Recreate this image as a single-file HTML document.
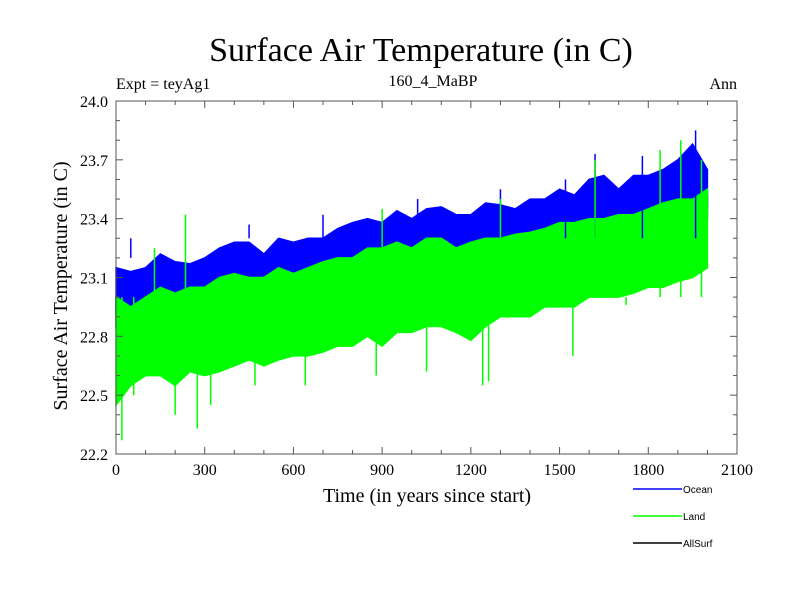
<!DOCTYPE html>
<html><head><meta charset="utf-8"><style>
body{margin:0;background:#fff;width:800px;height:600px;overflow:hidden}
svg text{font-family:"Liberation Serif",serif;fill:#000}
svg text.sans{font-family:"Liberation Sans",sans-serif}
</style></head><body>
<svg width="800" height="600" id="c">
<text x="421" y="61" font-size="34" text-anchor="middle">Surface Air Temperature (in C)</text>
<text x="433" y="86" font-size="16" text-anchor="middle">160_4_MaBP</text>
<text x="116" y="89" font-size="16">Expt = teyAg1</text>
<text x="737" y="89" font-size="16" text-anchor="end">Ann</text>
<text transform="translate(67,286) rotate(-90)" font-size="20" text-anchor="middle">Surface Air Temperature (in C)</text>
<text x="427" y="502" font-size="20" text-anchor="middle">Time (in years since start)</text>
<g id="series"></g>
<g id="axes"></g>
<g>
<line x1="633" y1="489" x2="682" y2="489" stroke="#0000ff" stroke-width="1.5"/>
<text class="sans" x="683" y="493" font-size="10">Ocean</text>
<line x1="633" y1="516" x2="682" y2="516" stroke="#00ff00" stroke-width="1.5"/>
<text class="sans" x="683" y="520" font-size="10">Land</text>
<line x1="633" y1="543" x2="682" y2="543" stroke="#000" stroke-width="1.5"/>
<text class="sans" x="683" y="547" font-size="10">AllSurf</text>
</g>
</svg>
<script>
const years=[0,50,100,150,200,250,300,350,400,450,500,550,600,650,700,750,800,850,900,950,1000,1050,1100,1150,1200,1250,1300,1350,1400,1450,1500,1550,1600,1650,1700,1750,1800,1850,1900,1950,2000];
const oceanHi=[23.15,23.13,23.15,23.22,23.18,23.17,23.2,23.25,23.28,23.28,23.22,23.3,23.28,23.3,23.3,23.35,23.38,23.4,23.38,23.44,23.4,23.45,23.46,23.42,23.42,23.48,23.47,23.45,23.5,23.5,23.55,23.52,23.6,23.62,23.55,23.62,23.62,23.65,23.7,23.78,23.65];
const oceanLo=[22.92,22.93,22.95,22.97,22.98,22.98,23.0,23.02,23.03,23.05,23.05,23.07,23.07,23.07,23.1,23.12,23.12,23.15,23.15,23.15,23.15,23.18,23.2,23.2,23.18,23.22,23.22,23.22,23.25,23.25,23.28,23.28,23.3,23.3,23.32,23.32,23.35,23.38,23.4,23.42,23.45];
const allHi=[23.0,23.02,23.03,23.05,23.06,23.06,23.08,23.1,23.12,23.13,23.13,23.15,23.15,23.16,23.18,23.2,23.2,23.24,23.23,23.24,23.24,23.27,23.28,23.28,23.27,23.3,23.31,23.31,23.33,23.34,23.37,23.37,23.38,23.39,23.4,23.41,23.43,23.46,23.48,23.5,23.52];
const allLo=[22.85,22.88,22.88,22.9,22.92,22.92,22.95,22.97,22.98,23.0,23.0,23.02,23.02,23.02,23.05,23.07,23.07,23.1,23.1,23.1,23.1,23.13,23.15,23.15,23.13,23.17,23.17,23.17,23.2,23.2,23.23,23.23,23.25,23.25,23.27,23.27,23.3,23.33,23.35,23.37,23.4];
const landHi=[23.0,22.95,23.0,23.05,23.02,23.05,23.05,23.1,23.12,23.1,23.1,23.15,23.12,23.15,23.18,23.2,23.2,23.25,23.25,23.28,23.25,23.3,23.3,23.25,23.28,23.3,23.3,23.32,23.33,23.35,23.38,23.38,23.4,23.4,23.42,23.42,23.45,23.48,23.5,23.5,23.55];
const landLo=[22.45,22.55,22.6,22.6,22.55,22.62,22.6,22.62,22.65,22.68,22.65,22.68,22.7,22.7,22.72,22.75,22.75,22.8,22.75,22.82,22.82,22.85,22.85,22.82,22.78,22.85,22.9,22.9,22.9,22.95,22.95,22.95,23.0,23.0,23.0,23.02,23.05,23.05,23.08,23.1,23.15];
const landSpikeYears=[20,60,130,200,235,275,320,470,640,880,900,1050,1240,1260,1300,1545,1620,1725,1840,1910,1980];
const landSpikeVals=[22.27,22.5,23.25,22.4,23.42,22.33,22.45,22.55,22.55,22.6,23.45,22.62,22.55,22.57,23.5,22.7,23.7,22.96,23.75,23.8,23.7];
const oceanSpikeYears=[50,170,450,700,1020,1300,1520,1620,1780,1960];
const oceanSpikeVals=[23.2,23.3,23.37,23.42,23.5,23.55,23.6,23.73,23.72,23.85];
const xTicks=[0,300,600,900,1200,1500,1800,2100];
const yTicks=[22.2,22.5,22.8,23.1,23.4,23.7,24.0];
const L=116,R=737,T=101,B=454,X0=0,X1=2100,Y0=22.2,Y1=24.0;
const sx=t=>L+(t-X0)/(X1-X0)*(R-L);
const sy=v=>B-(v-Y0)/(Y1-Y0)*(B-T);
const NS='http://www.w3.org/2000/svg';
const sg=document.getElementById('series'),ag=document.getElementById('axes');
function mk(tag,at,par){const e=document.createElementNS(NS,tag);for(const k in at)e.setAttribute(k,at[k]);par.appendChild(e);return e;}
function band(hi,lo,col,name){
 let d='';
 hi.forEach((v,i)=>{d+=(i?'L':'M')+sx(years[i]).toFixed(1)+','+sy(v).toFixed(1);});
 for(let i=lo.length-1;i>=0;i--)d+='L'+sx(years[i]).toFixed(1)+','+sy(lo[i]).toFixed(1);
 const p=mk('path',{d:d+'Z',fill:col,stroke:col,'stroke-width':1.5},sg);
 
 
}
function spikes(ys,vs,base,col,name){
 ys.forEach((t,i)=>{
  const l=mk('line',{x1:sx(t),x2:sx(t),y1:sy(vs[i]),y2:sy(base),stroke:col,'stroke-width':1.5},sg);
  
  
 });
}
band(allHi,allLo,'#000','allsurf-series');
band(oceanHi,oceanLo,'#0000ff','ocean-series');
band(landHi,landLo,'#00ff00','land-series');
spikes(oceanSpikeYears,oceanSpikeVals,23.3,'#0000ff','ocean-spike');
spikes(landSpikeYears,landSpikeVals,23.0,'#00ff00','land-spike');
const fr=mk('rect',{x:L,y:T,width:R-L,height:B-T,fill:'none',stroke:'#555','stroke-width':1},ag);


for(let t=X0;t<=X1;t+=100){const maj=t%300===0,len=maj?7:4;
 mk('line',{x1:sx(t),x2:sx(t),y1:B,y2:B-len,stroke:'#555'},ag);
 mk('line',{x1:sx(t),x2:sx(t),y1:T,y2:T+len,stroke:'#555'},ag);}
for(let k=0;k<=18;k++){const v=Y0+k*0.1,len=k%3===0?7:4;
 mk('line',{x1:L,x2:L+len,y1:sy(v),y2:sy(v),stroke:'#555'},ag);
 mk('line',{x1:R,x2:R-len,y1:sy(v),y2:sy(v),stroke:'#555'},ag);}
xTicks.forEach(t=>{const e=mk('text',{x:sx(t),y:B+21,'font-size':16,'text-anchor':'middle'},ag);e.textContent=t;
 
 });
yTicks.forEach(v=>{const e=mk('text',{x:L-8,y:sy(v)+6,'font-size':16,'text-anchor':'end'},ag);e.textContent=v.toFixed(1);
 
 });
</script>
</body></html>
